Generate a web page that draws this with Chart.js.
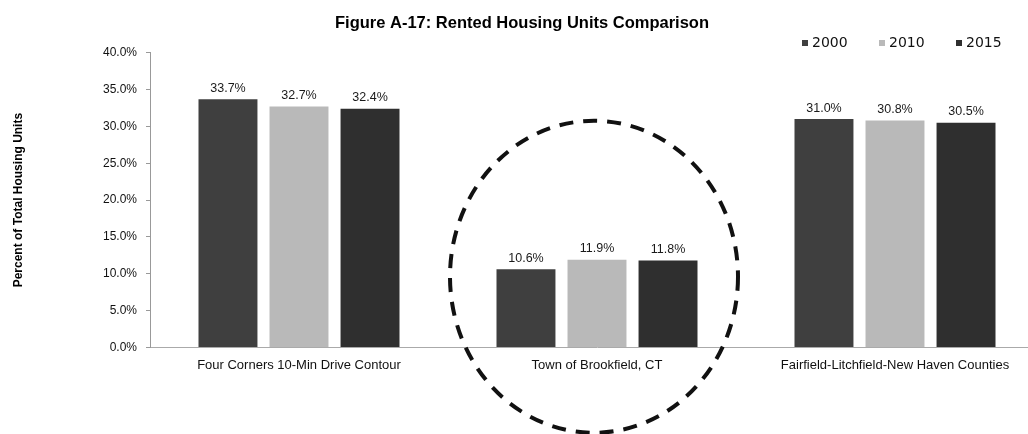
<!DOCTYPE html>
<html>
<head>
<meta charset="utf-8">
<script src="https://cdn.jsdelivr.net/npm/chart.js@4.4.1/dist/chart.umd.min.js"></script>
<style>
  html, body { margin: 0; padding: 0; background: #fff; overflow: hidden; }
  #clip { width: 1028px; height: 434px; overflow: hidden; }
  #box { width: 1044px; height: 434px; position: relative; }
</style>
</head>
<body>
<div id="clip"><div id="box"><canvas id="rented-chart"></canvas></div></div>
<script>
var categories = ["Four Corners 10-Min Drive Contour", "Town of Brookfield, CT", "Fairfield-Litchfield-New Haven Counties"];
var years = ["2000", "2010", "2015"];
var values2000 = [33.7, 10.6, 31.0];
var values2010 = [32.7, 11.9, 30.8];
var values2015 = [32.4, 11.8, 30.5];
var yTicks = [0, 5, 10, 15, 20, 25, 30, 35, 40];

var barColors = ["#3f3f3f", "#b9b9b9", "#2f2f2f"];

// value labels above each bar
var valueLabels = {
    id: 'valueLabels',
    afterDatasetsDraw: function (chart) {
        var ctx = chart.ctx;
        ctx.save();
        ctx.font = '12.5px "Liberation Sans", Arial, sans-serif';
        ctx.fillStyle = '#1a1a1a';
        ctx.textAlign = 'center';
        ctx.textBaseline = 'middle';
        chart.data.datasets.forEach(function (ds, i) {
            chart.getDatasetMeta(i).data.forEach(function (bar, j) {
                ctx.fillText(ds.data[j].toFixed(1) + '%', bar.x, bar.y - 11);
            });
        });
        ctx.restore();
    }
};

// small legend top right
var yearLegend = {
    id: 'yearLegend',
    afterDraw: function (chart) {
        var ctx = chart.ctx;
        var x = 802, y = 43;
        ctx.save();
        ctx.font = '14px "DejaVu Sans", sans-serif';
        ctx.textBaseline = 'middle';
        ctx.textAlign = 'left';
        chart.data.datasets.forEach(function (ds) {
            ctx.fillStyle = ds.backgroundColor;
            ctx.fillRect(x, y - 3, 6, 6);
            ctx.fillStyle = '#111';
            ctx.fillText(ds.label, x + 10, y);
            x += 77;
        });
        ctx.restore();
    }
};

// dashed circle around the Brookfield group
var dashedCircle = {
    id: 'dashedCircle',
    afterDraw: function (chart) {
        var xs = chart.scales.x, ys = chart.scales.y;
        var cx = xs.getPixelForValue(1) - 3;
        var cy = ys.getPixelForValue(10) + 3;
        var ctx = chart.ctx;
        ctx.save();
        ctx.strokeStyle = '#111';
        ctx.lineWidth = 4;
        ctx.setLineDash([14, 10]);
        ctx.beginPath();
        ctx.ellipse(cx, cy, 144, 156, 0, 0, Math.PI * 2);
        ctx.stroke();
        ctx.restore();
    }
};

var chart = new Chart(document.getElementById("rented-chart"), {
    type: 'bar',
    data: {
        labels: categories,
        datasets: [
            { label: years[0], data: values2000, backgroundColor: barColors[0] },
            { label: years[1], data: values2010, backgroundColor: barColors[1] },
            { label: years[2], data: values2015, backgroundColor: barColors[2] }
        ]
    },
    options: {
        responsive: true,
        maintainAspectRatio: false,
        animation: false,
        layout: { padding: { left: 0, right: 0, top: 0, bottom: 51 } },
        datasets: { bar: { categoryPercentage: 0.715, barPercentage: 0.83 } },
        plugins: {
            legend: { display: false },
            tooltip: { enabled: false },
            title: {
                display: true,
                text: 'Figure A-17: Rented Housing Units Comparison',
                color: '#000',
                font: { family: '"Liberation Sans", Arial, sans-serif', size: 16.5, weight: 'bold' },
                padding: { top: 14, bottom: 19 }
            }
        },
        scales: {
            x: {
                grid: { display: false, drawTicks: false },
                border: { display: true, color: '#aaa', dash: [1, 2] },
                ticks: {
                    color: '#111',
                    padding: 10,
                    maxRotation: 0,
                    font: { family: '"Liberation Sans", Arial, sans-serif', size: 13 }
                }
            },
            y: {
                min: 0,
                max: 40,
                afterFit: function (scale) { scale.width = 150; },
                afterBuildTicks: function (scale) {
                    scale.ticks = yTicks.map(function (v) { return { value: v }; });
                },
                grid: { drawOnChartArea: false, tickLength: 4, tickColor: '#999' },
                border: { display: true, color: '#999', dash: [1, 2] },
                ticks: {
                    color: '#111',
                    padding: 9,
                    font: { family: '"Liberation Sans", Arial, sans-serif', size: 12 },
                    callback: function (v) { return v.toFixed(1) + '%'; }
                },
                title: {
                    display: true,
                    text: 'Percent of Total Housing Units',
                    color: '#000',
                    font: { family: '"Liberation Sans", Arial, sans-serif', size: 12, weight: 'bold' },
                    padding: { top: 11 }
                }
            }
        }
    },
    plugins: [valueLabels, yearLegend, dashedCircle]
});
</script>
</body>
</html>
